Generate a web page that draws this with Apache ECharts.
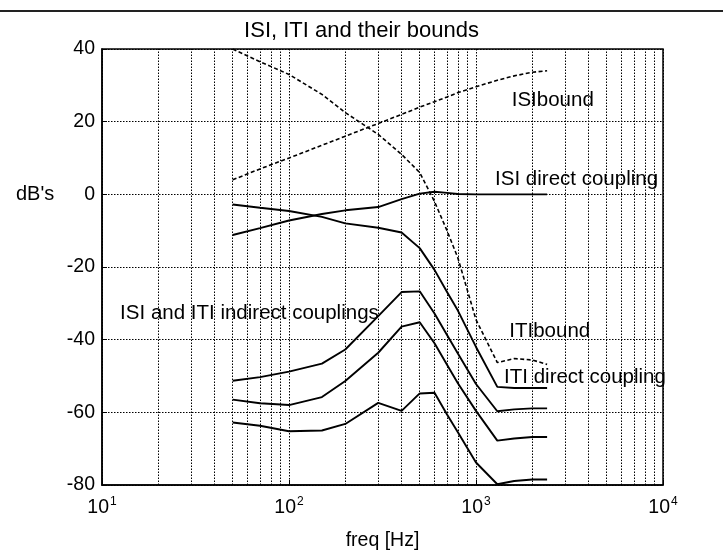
<!DOCTYPE html>
<html>
<head>
<meta charset="utf-8">
<script src="https://cdn.jsdelivr.net/npm/echarts@6/dist/echarts.min.js"></script>
<style>
  html, body { margin: 0; padding: 0; background: #fff; }
  #chart { width: 723px; height: 556px; }
</style>
</head>
<body>
<div id="chart"></div>
<script>
// Frequency samples (Hz) shared by every curve
const freqHz = [50, 70, 100, 150, 200, 300, 400, 500, 600, 700, 800, 1000, 1300, 1600, 2000, 2400];

// Bounds (dashed)
const isiBound = [4, 7, 10, 13.5, 16, 19.5, 22, 24, 25.5, 26.8, 28, 29.6, 31.4, 32.6, 33.6, 34];
const itiBound = [40, 36.5, 33, 27.5, 22.5, 16.5, 11, 6, -2, -10, -17.5, -34.5, -46.3, -45.2, -45.6, -46.8];

// Direct couplings (solid)
const isiDirect = [-11.2, -9.3, -7.2, -5.4, -4.4, -3.5, -1.3, 0.2, 0.7, 0.4, 0.1, 0, 0, 0, 0, 0];
const itiDirect = [-2.8, -3.7, -4.6, -6.2, -8, -9.2, -10.5, -14.8, -20.8, -26.9, -32, -42, -53, -53.3, -53.3, -53.3];

// Indirect couplings (solid)
const indirectUpper = [-51.3, -50.3, -48.8, -46.6, -42.7, -33.5, -26.9, -26.7, -32.8, -38.7, -43.8, -52.2, -59.7, -59.2, -58.9, -58.9];
const indirectMiddle = [-56.5, -57.5, -58, -55.8, -51.4, -43.6, -36.4, -35.2, -41, -46.9, -52, -59.6, -67.8, -67.2, -66.8, -66.8];
const indirectLower = [-62.8, -63.7, -65.2, -65, -63.2, -57.4, -59.6, -54.8, -54.6, -60.6, -65.5, -73.8, -79.8, -78.9, -78.5, -78.5];

// Axis ticks
const yTicks = [-80, -60, -40, -20, 0, 20, 40];
const xMinorGrid = [20, 30, 40, 50, 60, 70, 80, 90,
                    200, 300, 400, 500, 600, 700, 800, 900,
                    2000, 3000, 4000, 5000, 6000, 7000, 8000, 9000];

// Curve annotations: [text, frequency at left edge, dB at vertical centre]
const notes = [
  ['ISIbound', 1553, 25.8],
  ['ISI direct coupling', 1265, 4.1],
  ['ISI and ITI indirect couplings', 12.5, -32.8],
  ['ITIbound', 1507, -37.6],
  ['ITI direct coupling', 1413, -50.4]
];

const FONT = '"Liberation Sans", Arial, Helvetica, sans-serif';
const pairs = arr => freqHz.map((f, i) => [f, arr[i]]);

function curve(name, values, dashed, extra) {
  return Object.assign({
    name: name,
    type: 'line',
    data: pairs(values),
    showSymbol: false,
    symbol: 'none',
    silent: true,
    animation: false,
    lineStyle: {
      color: '#000',
      width: dashed ? 1.6 : 1.9,
      type: dashed ? [4, 2.5] : 'solid'
    },
    z: 5
  }, extra || {});
}

const gridDot = { type: [1.5, 1.5], color: '#000', width: 1 };

const chart = echarts.init(document.getElementById('chart'), null, { renderer: 'canvas' });

chart.setOption({
  backgroundColor: '#fff',
  animation: false,
  textStyle: { fontFamily: FONT, color: '#000' },
  title: {
    text: 'ISI, ITI and their bounds',
    left: 'center',
    top: 15,
    textStyle: { fontFamily: FONT, fontSize: 22, fontWeight: 'normal', color: '#000' }
  },
  grid: {
    left: 102, right: 60, top: 49, bottom: 62,
    show: true, borderColor: '#000', borderWidth: 1.5, backgroundColor: 'transparent'
  },
  xAxis: {
    type: 'log',
    logBase: 10,
    min: 10,
    max: 10000,
    name: 'freq [Hz]',
    nameLocation: 'middle',
    nameGap: 46,
    nameTextStyle: { fontFamily: FONT, fontSize: 19.5, color: '#000' },
    axisLine: { show: true, onZero: false, lineStyle: { color: '#000', width: 1.5 } },
    axisTick: { show: true, inside: true, length: 5, lineStyle: { color: '#000' } },
    splitLine: { show: true, lineStyle: gridDot },
    axisLabel: {
      margin: 11,
      color: '#000',
      formatter: v => '{b|10}{s|' + Math.round(Math.log10(v)) + '}',
      rich: {
        b: { fontFamily: FONT, fontSize: 19.5, color: '#000', lineHeight: 22, verticalAlign: 'bottom' },
        s: { fontFamily: FONT, fontSize: 12, color: '#000', lineHeight: 22, verticalAlign: 'top', padding: [0, 0, 0, 1] }
      }
    }
  },
  yAxis: {
    type: 'value',
    min: yTicks[0],
    max: yTicks[yTicks.length - 1],
    interval: 20,
    axisLine: { show: true, onZero: false, lineStyle: { color: '#000', width: 1.5 } },
    axisTick: { show: true, inside: true, length: 5, lineStyle: { color: '#000' } },
    splitLine: { show: true, lineStyle: gridDot },
    axisLabel: { fontFamily: FONT, fontSize: 19.5, color: '#000', margin: 7 }
  },
  series: [
    curve('ISI bound', isiBound, true, {
      markLine: {
        silent: true,
        symbol: 'none',
        animation: false,
        label: { show: false },
        lineStyle: gridDot,
        data: xMinorGrid.map(v => ({ xAxis: v }))
      }
    }),
    curve('ITI bound', itiBound, true),
    curve('ISI direct coupling', isiDirect, false),
    curve('ITI direct coupling', itiDirect, false),
    curve('indirect upper', indirectUpper, false),
    curve('indirect middle', indirectMiddle, false),
    curve('indirect lower', indirectLower, false)
  ]
});

// Text labels tied to data positions, plus the y-axis caption and the page rule
const graphics = notes.map(([text, f, db]) => {
  const p = chart.convertToPixel({ gridIndex: 0 }, [f, db]);
  return {
    type: 'text', x: p[0], y: p[1], z: 20, silent: true,
    style: { text: text, fontFamily: FONT, fontSize: 20.5, fill: '#000',
             textAlign: 'left', textVerticalAlign: 'middle', verticalAlign: 'middle' }
  };
});
const zeroY = chart.convertToPixel({ gridIndex: 0 }, [10, 0])[1];
graphics.push({
  type: 'text', x: 16, y: zeroY, z: 20, silent: true,
  style: { text: "dB's", fontFamily: FONT, fontSize: 20, fill: '#000',
           textAlign: 'left', textVerticalAlign: 'middle', verticalAlign: 'middle' }
});
graphics.push({
  type: 'line', z: 20, silent: true,
  shape: { x1: 0, y1: 11, x2: 723, y2: 11 },
  style: { stroke: '#222', lineWidth: 2 }
});
chart.setOption({ graphic: graphics });
</script>
</body>
</html>
